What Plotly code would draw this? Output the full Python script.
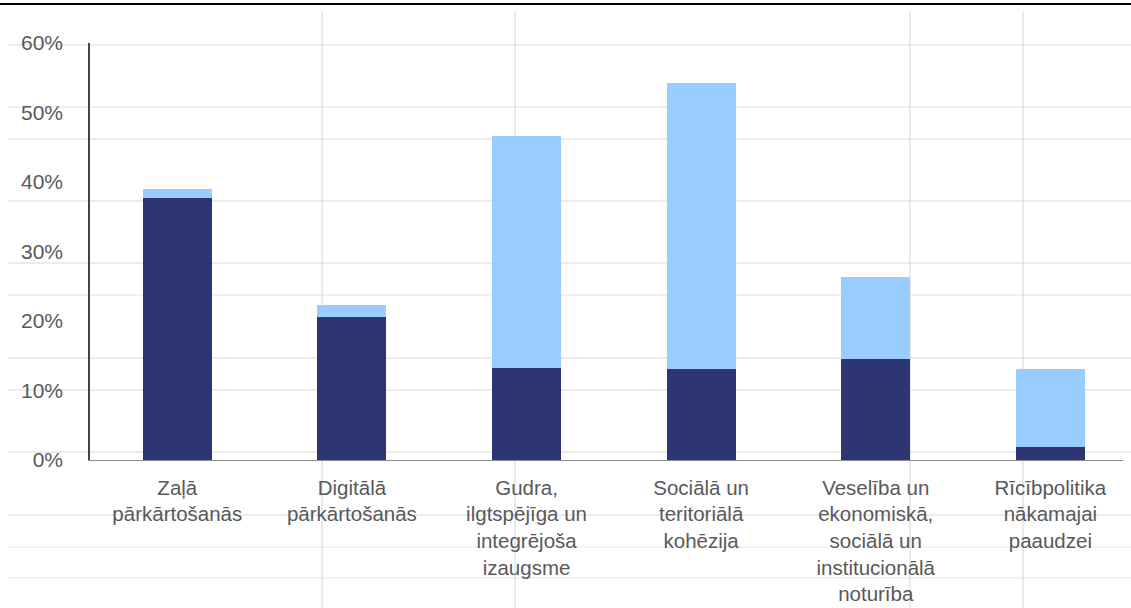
import plotly.graph_objects as go

categories = [
    "Zaļā<br>pārkārtošanās",
    "Digitālā<br>pārkārtošanās",
    "Gudra,<br>ilgtspējīga un<br>integrējoša<br>izaugsme",
    "Sociālā un<br>teritoriālā<br>kohēzija",
    "Veselība un<br>ekonomiskā,<br>sociālā un<br>institucionālā<br>noturība",
    "Rīcībpolitika<br>nākamajai<br>paaudzei",
]
dark_values = [37.7, 20.6, 13.3, 13.1, 14.5, 1.8]
light_values = [1.3, 1.7, 33.3, 41.2, 11.8, 11.3]
y_ticks = [0, 10, 20, 30, 40, 50, 60]
y_tick_labels = ["0%", "10%", "20%", "30%", "40%", "50%", "60%"]

W, H = 1131, 608
L, T = 90, 43
R = W - 1123
B = H - 460
PW, PH = W - L - R, H - T - B

fig = go.Figure()
x_idx = list(range(len(categories)))
fig.add_trace(go.Bar(x=x_idx, y=dark_values, marker=dict(color="#2E3573", line=dict(width=0)),
                     width=0.395, hoverinfo="y"))
fig.add_trace(go.Bar(x=x_idx, y=light_values, marker=dict(color="#99CCFF", line=dict(width=0)),
                     width=0.395, hoverinfo="y"))

# spreadsheet-like background grid (decoration), given in page pixels
def px_x(p):
    return (p - L) / PW

def px_y(p):
    return 1 - (p - T) / PH

shapes = []
for yy, c in [(45, "#d9d9d9"), (107, "#e0e0e0"), (139, "#d9d9d9"), (201, "#d9d9d9"),
              (263, "#d9d9d9"), (295, "#e0e0e0"), (358, "#d9d9d9"), (390, "#d9d9d9"),
              (452, "#d9d9d9"), (515, "#d9d9d9"), (547, "#e8e8e8"), (578, "#e3e3e3")]:
    shapes.append(dict(type="line", xref="paper", yref="paper", x0=px_x(8), x1=px_x(W),
                       y0=px_y(yy), y1=px_y(yy), line=dict(color=c, width=1), layer="below"))
for xx in [322, 515, 910, 1023]:
    shapes.append(dict(type="line", xref="paper", yref="paper", x0=px_x(xx), x1=px_x(xx),
                       y0=px_y(12), y1=px_y(H), line=dict(color="#d4d4d4", width=1), layer="below"))
shapes.append(dict(type="line", xref="paper", yref="paper", x0=px_x(0), x1=px_x(W),
                   y0=px_y(4), y1=px_y(4), line=dict(color="#000000", width=2)))

fig.update_layout(
    barmode="stack",
    width=W, height=H,
    margin=dict(l=L, r=R, t=T, b=B, pad=0, autoexpand=False),
    paper_bgcolor="white", plot_bgcolor="rgba(0,0,0,0)",
    showlegend=False,
    font=dict(family="Liberation Sans, Arial, sans-serif", size=21, color="#595959"),
    shapes=shapes,
    xaxis=dict(
        tickmode="array", tickvals=x_idx, ticktext=categories,
        range=[-0.5, 5.416], showgrid=False, zeroline=False, automargin=False,
        showline=True, linecolor="#8c8c8c", linewidth=1,
        ticks="outside", ticklen=9, tickcolor="rgba(0,0,0,0)",
        tickfont=dict(size=20.5, color="#595959"),
    ),
    yaxis=dict(
        tickmode="array", tickvals=y_ticks, ticktext=y_tick_labels,
        range=[0, 60], showgrid=False, zeroline=False, automargin=False,
        showline=True, linecolor="#444444", linewidth=1.5,
        ticks="outside", ticklen=21, tickcolor="rgba(0,0,0,0)",
        tickfont=dict(size=21, color="#595959"),
    ),
)

fig.write_html(
    "out.html",
    config={"displayModeBar": False},
    post_script="document.body.style.margin='0px';document.body.style.padding='0px';",
)
